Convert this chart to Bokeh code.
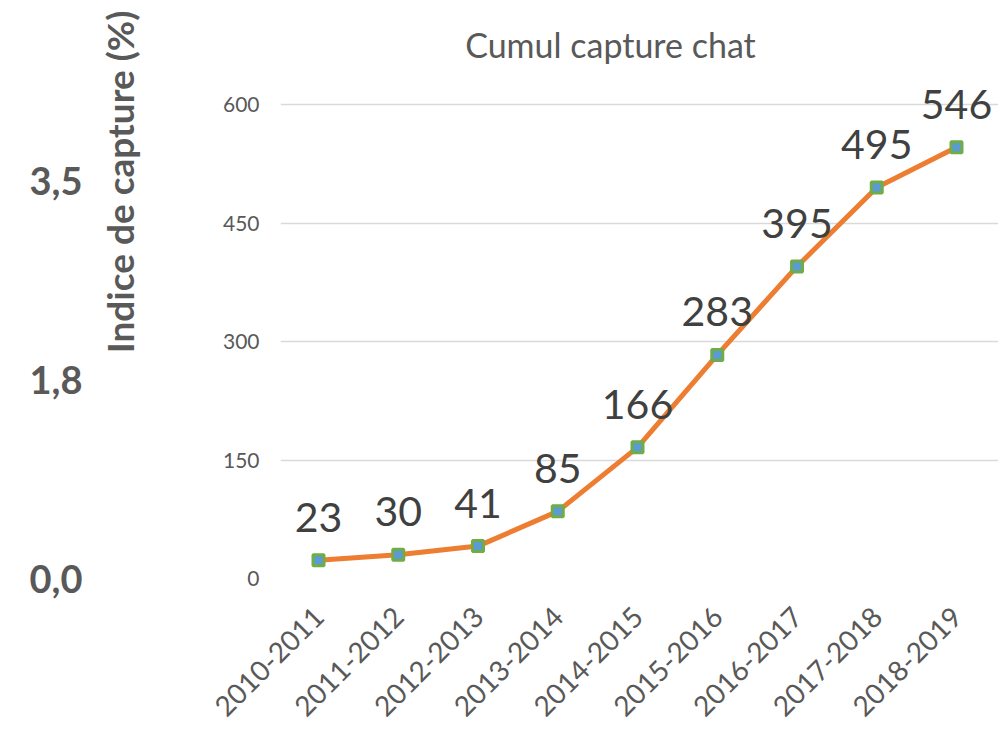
import math
from bokeh.plotting import figure
from bokeh.layouts import row
from bokeh.models import ColumnDataSource, FixedTicker, Range1d, Label
from bokeh.core.properties import value
from bokeh.embed import file_html
from bokeh.resources import INLINE

# ---- data ----
seasons = ["2010-2011", "2011-2012", "2012-2013", "2013-2014", "2014-2015",
           "2015-2016", "2016-2017", "2017-2018", "2018-2019"]
cumul = [23, 30, 41, 85, 166, 283, 395, 495, 546]
y_ticks = [0, 150, 300, 450, 600]
# cropped axis of the neighbouring chart (left edge of the picture)
idx_ticks = [0.0, 1.75, 3.5]
idx_labels = ["0,0", "1,8", "3,5"]
chart_title = "Cumul capture chat"
idx_title = "Indice de capture (%)"

FONT = "Lato"
GREY = "#595959"
H = 728
FRAME_BOTTOM = 578

# ---------------- left strip: remains of the neighbouring chart ----------------
PX_PER_IDX = 113.43
left = figure(width=150, height=H, output_backend="svg", toolbar_location=None,
              x_range=Range1d(85, 150),
              y_range=Range1d(0, FRAME_BOTTOM / PX_PER_IDX),
              x_axis_location=None,
              min_border_left=85, min_border_right=0, min_border_top=0,
              min_border_bottom=H - FRAME_BOTTOM)
left.grid.visible = False
left.outline_line_color = None
left.yaxis.ticker = FixedTicker(ticks=idx_ticks)
left.yaxis.major_label_overrides = {t: s for t, s in zip(idx_ticks, idx_labels)}
left.yaxis.axis_line_color = None
left.yaxis.major_tick_line_color = None
left.yaxis.minor_tick_line_color = None
left.yaxis.major_tick_out = 0
left.yaxis.major_label_standoff = 3
left.yaxis.major_label_text_font = FONT
left.yaxis.major_label_text_font_size = "38px"
left.yaxis.major_label_text_font_style = "bold"
left.yaxis.major_label_text_color = GREY
left.add_layout(Label(x=119, y=(FRAME_BOTTOM - 181.5) / PX_PER_IDX, text=idx_title,
                      angle=math.pi / 2, text_align="center",
                      text_baseline="middle", text_font=FONT,
                      text_font_size="37px", text_font_style="bold",
                      text_color=GREY))

# ---------------- main chart ----------------
xs = list(range(len(seasons)))
src = ColumnDataSource(dict(x=xs, y=cumul, lab=[str(v) for v in cumul]))

p = figure(width=848, height=H, output_backend="svg", toolbar_location=None,
           x_range=Range1d(-0.4765, 8.5266),
           y_range=Range1d(0, FRAME_BOTTOM / 0.79),
           min_border_left=130, min_border_right=0, min_border_top=0,
           min_border_bottom=H - FRAME_BOTTOM)
p.outline_line_color = None

p.yaxis.ticker = FixedTicker(ticks=y_ticks)
p.yaxis.axis_line_color = None
p.yaxis.major_tick_line_color = None
p.yaxis.minor_tick_line_color = None
p.yaxis.major_tick_out = 0
p.yaxis.major_label_standoff = 21
p.yaxis.major_label_text_font = FONT
p.yaxis.major_label_text_font_size = "21px"
p.yaxis.major_label_text_color = GREY

p.xaxis.ticker = FixedTicker(ticks=xs)
p.xaxis.major_label_overrides = {i: s for i, s in enumerate(seasons)}
p.xaxis.major_label_orientation = math.pi / 4
p.xaxis.axis_line_color = None
p.xaxis.major_tick_line_color = None
p.xaxis.minor_tick_line_color = None
p.xaxis.major_tick_out = 0
p.xaxis.major_label_standoff = 33
p.xaxis.major_label_text_font = FONT
p.xaxis.major_label_text_font_size = "28px"
p.xaxis.major_label_text_color = GREY

p.xgrid.grid_line_color = None
p.ygrid.ticker = FixedTicker(ticks=y_ticks)
p.ygrid.grid_line_color = "#d9d9d9"
p.ygrid.grid_line_width = 1.5

p.line("x", "y", source=src, line_color="#ED7D31", line_width=5)
p.scatter("x", "y", source=src, marker="square", size=11,
          fill_color="#5B9BD5", line_color="#70AD47", line_width=3)
p.text("x", "y", text="lab", source=src, text_align="center",
       text_baseline="alphabetic", y_offset=-43,
       text_font=value(FONT), text_font_size="41px", text_color="#404040")

p.add_layout(Label(x=330, y=534, x_units="screen", y_units="screen",
                   text=chart_title, text_align="center", text_baseline="alphabetic",
                   text_font=FONT, text_font_size="34px", text_color=GREY))

layout = row(left, p)
open("out.html", "w").write(file_html(layout, INLINE))
